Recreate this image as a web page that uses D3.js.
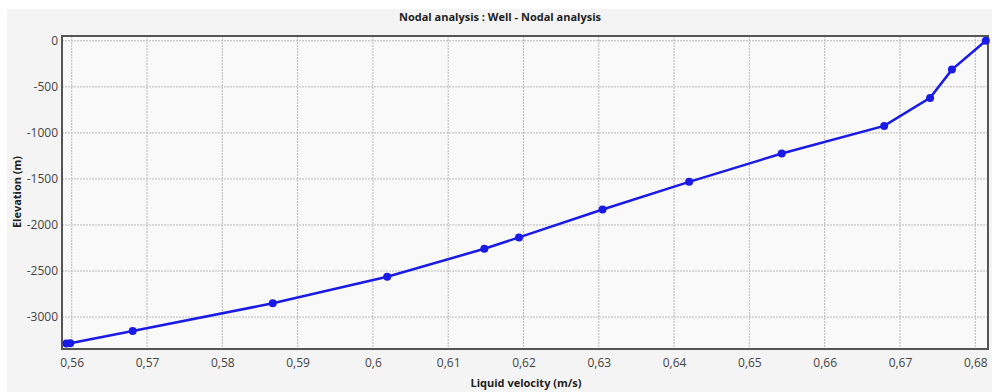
<!DOCTYPE html>
<html>
<head>
<meta charset="utf-8">
<script src="https://cdn.jsdelivr.net/npm/d3@7"></script>
<style>
  body { margin: 0; background: #fff; }
  text { font-family: "Open Sans", "DejaVu Sans", sans-serif; }
</style>
</head>
<body>
<svg width="992" height="392"></svg>
<script>
// values
var velocity = [0.5593, 0.5598, 0.5681, 0.5867, 0.6019, 0.6148, 0.6194, 0.6305,
                0.6420, 0.6543, 0.6679, 0.6740, 0.6769, 0.6814];
var elevation = [-3288, -3285, -3152, -2851, -2562, -2259, -2135, -1832,
                 -1532, -1224, -924, -620, -313, 0];
var xTicks = [0.56, 0.57, 0.58, 0.59, 0.6, 0.61, 0.62, 0.63, 0.64, 0.65, 0.66, 0.67, 0.68];
var yTicks = [0, -500, -1000, -1500, -2000, -2500, -3000];

var svg = d3.select("svg");
var pLeft = 62, pTop = 36, pRight = 988, pBottom = 349;

svg.append("rect").attr("x", 7).attr("y", 9).attr("width", 985).attr("height", 383)
    .attr("fill", "#f4f4f4");
svg.append("rect").attr("x", pLeft).attr("y", pTop).attr("width", pRight - pLeft).attr("height", pBottom - pTop)
    .attr("fill", "#f9f9f9");

var x = d3.scaleLinear().domain([0.55871, 0.68169]).range([pLeft, pRight]);
var y = d3.scaleLinear().domain([52, -3347]).range([pTop, pBottom]);

var data = velocity.map(function(v, i) { return {x: v, y: elevation[i]}; });

// grid
svg.append("g").selectAll("line").data(xTicks).enter().append("line")
    .attr("x1", function(d) { return x(d); }).attr("x2", function(d) { return x(d); })
    .attr("y1", pTop).attr("y2", pBottom)
    .attr("stroke", "#b8b8b8").attr("stroke-dasharray", "2,1");
svg.append("g").selectAll("line").data(yTicks).enter().append("line")
    .attr("y1", function(d) { return y(d); }).attr("y2", function(d) { return y(d); })
    .attr("x1", pLeft).attr("x2", pRight)
    .attr("stroke", "#b8b8b8").attr("stroke-dasharray", "2,1");

// axes
var xAxis = svg.append("g").attr("transform", "translate(0," + pBottom + ")")
    .call(d3.axisBottom(x).tickValues(xTicks).tickSize(0).tickPadding(9)
        .tickFormat(function(d) { return String(d).replace(".", ","); }));
var yAxis = svg.append("g").attr("transform", "translate(" + pLeft + ",0)")
    .call(d3.axisLeft(y).tickValues(yTicks).tickSize(0).tickPadding(4)
        .tickFormat(function(d) { return String(d); }));
[xAxis, yAxis].forEach(function(a) {
    a.select(".domain").remove();
    a.selectAll("text").attr("font-size", 12).attr("fill", "#444")
        .style("font-family", "'Open Sans', sans-serif");
});

// frame
svg.append("rect").attr("x", pLeft).attr("y", pTop).attr("width", pRight - pLeft).attr("height", pBottom - pTop)
    .attr("fill", "none").attr("stroke", "#555").attr("stroke-width", 2);

// series
svg.append("path").datum(data)
    .attr("fill", "none").attr("stroke", "#1a1ae6").attr("stroke-width", 2.5)
    .attr("d", d3.line().x(function(d) { return x(d.x); }).y(function(d) { return y(d.y); }));
svg.append("g").selectAll("circle").data(data).enter().append("circle")
    .attr("cx", function(d) { return x(d.x); }).attr("cy", function(d) { return y(d.y); })
    .attr("r", 4).attr("fill", "#1a1ae6");

// titles
svg.append("text").attr("x", 500).attr("y", 21).attr("text-anchor", "middle")
    .attr("font-size", 11).attr("font-weight", "bold").attr("fill", "#222")
    .text("Nodal analysis : Well - Nodal analysis");
svg.append("text").attr("x", 526).attr("y", 387).attr("text-anchor", "middle")
    .attr("font-size", 11).attr("font-weight", "bold").attr("fill", "#222")
    .text("Liquid velocity (m/s)");
svg.append("text").attr("transform", "translate(21,192) rotate(-90)").attr("text-anchor", "middle")
    .attr("font-size", 11).attr("font-weight", "bold").attr("fill", "#222")
    .text("Elevation (m)");
</script>
</body>
</html>
